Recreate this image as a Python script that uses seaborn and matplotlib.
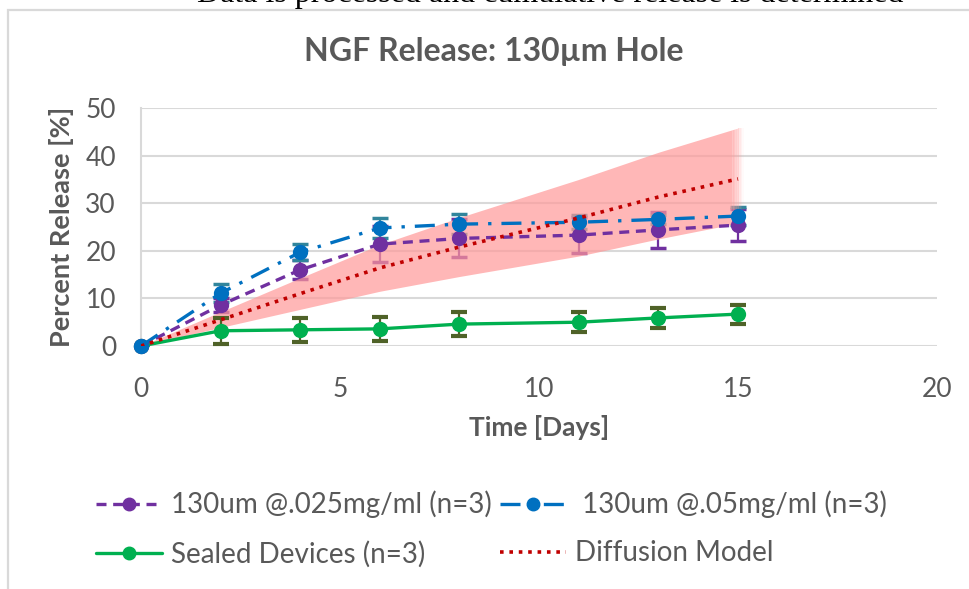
import numpy as np
import pandas as pd
import matplotlib
matplotlib.use("Agg")
import matplotlib.pyplot as plt
from matplotlib.lines import Line2D
from matplotlib.patches import Rectangle
import seaborn as sns

# Sampling days
days = [0, 2, 4, 6, 8, 11, 13, 15]

# Cumulative release [%] and standard deviations
release_025 = [0, 8.6, 16.0, 21.4, 22.6, 23.3, 24.4, 25.4]
err_025 = [0, 1.5, 2.0, 3.8, 4.0, 3.8, 3.8, 3.4]
release_05 = [0, 11.1, 19.7, 24.8, 25.6, 26.0, 26.6, 27.3]
err_05 = [0, 1.9, 1.7, 2.1, 2.1, 1.5, 1.0, 1.9]
release_sealed = [0, 3.2, 3.4, 3.6, 4.6, 5.0, 5.9, 6.7]
err_sealed = [0, 2.7, 2.5, 2.5, 2.5, 2.1, 2.1, 2.0]

# Diffusion model with its uncertainty band
model_days = [0, 2, 4, 6, 8, 11, 13, 15]
model_release = [0, 5.5, 11.0, 16.4, 20.8, 26.9, 31.3, 35.1]
model_upper = [0, 7.2, 14.3, 21.3, 27.0, 35.0, 40.7, 45.8]
model_lower = [0, 3.9, 7.7, 11.5, 14.6, 18.9, 22.5, 25.8]

labels = ["130um @.025mg/ml (n=3)", " 130um @.05mg/ml (n=3)",
          "Sealed Devices (n=3)", "Diffusion Model"]
title = "NGF Release: 130\u00b5m Hole"
header = "Data is processed and cumulative release is determined"

sns.set_theme(style="white")
plt.rcParams["font.family"] = ["Lato", "DejaVu Sans"]

TXT = "#595959"
GRID = "#D9D9D9"
C_PURPLE = "#7030A0"
C_BLUE = "#0070C0"
C_GREEN = "#00B050"
C_RED = "#C00000"
LS_PURPLE = (0, (3, 2))
LS_BLUE = (0, (6, 3, 1, 3))
LS_RED = (0, (1, 1.6))

fig = plt.figure(figsize=(9.69, 5.89), dpi=100)
ax = fig.add_axes([141 / 969, 1 - 346 / 589, (937 - 141) / 969, (346 - 108) / 589])

# Chart frame and clipped header text above it
fig.patches.append(Rectangle((8 / 969, -0.1), 1.2, 1 - 10 / 589 + 0.1,
                             transform=fig.transFigure, fill=False,
                             edgecolor=GRID, linewidth=1.6))
fig.text(550 / 969, 1 - 2 / 589, header, family="Liberation Serif",
         fontsize=23, ha="center", va="baseline", color="black")

# Model band with a soft right edge
md = np.array(model_days, dtype=float)
mu = np.array(model_upper, dtype=float)
ml = np.array(model_lower, dtype=float)
band_col = "#FF9999"
xs = np.linspace(0, md[-1] - 0.15, 200)
ax.fill_between(xs, np.interp(xs, md, ml), np.interp(xs, md, mu),
                color=band_col, alpha=0.7, linewidth=0, zorder=2)
edges = np.linspace(md[-1] - 0.15, md[-1] + 0.15, 9)
for i in range(len(edges) - 1):
    xe = np.array([edges[i], edges[i + 1]])
    a = 0.7 * (1 - (i + 0.5) / (len(edges) - 1))
    ax.fill_between(xe, np.interp(xe, md, ml), np.interp(xe, md, mu),
                    color=band_col, alpha=a, linewidth=0, zorder=2)

# Error bars
ax.errorbar(days, release_025, yerr=err_025, fmt="none", ecolor=C_PURPLE,
            elinewidth=1.6, capsize=5.5, capthick=2.5, zorder=1.5)
ax.errorbar(days, release_05, yerr=err_05, fmt="none", ecolor="#31859C",
            elinewidth=1.6, capsize=5.5, capthick=2.5, zorder=1.5)
ax.errorbar(days, release_sealed, yerr=err_sealed, fmt="none", ecolor="#4F6228",
            elinewidth=1.6, capsize=5.5, capthick=3, zorder=3)

df = pd.DataFrame({
    "day": days * 3,
    "release": release_025 + release_05 + release_sealed,
    "series": [labels[0]] * 8 + [labels[1]] * 8 + [labels[2]] * 8,
})
styles = {
    labels[0]: dict(color=C_PURPLE, ls=LS_PURPLE),
    labels[1]: dict(color=C_BLUE, ls=LS_BLUE),
    labels[2]: dict(color=C_GREEN, ls="-"),
}
for name in [labels[2], labels[0], labels[1]]:
    st = styles[name]
    sns.lineplot(data=df[df.series == name], x="day", y="release", ax=ax,
                 color=st["color"], linestyle=st["ls"], linewidth=2.4,
                 marker="o", markersize=11, markeredgewidth=0,
                 clip_on=False, zorder=4, legend=False)

sns.lineplot(x=model_days, y=model_release, ax=ax, color=C_RED,
             linestyle=LS_RED, linewidth=2.6, zorder=5, legend=False)

ax.set_xlim(0, 20)
ax.set_ylim(0, 50)
ax.set_xticks([0, 5, 10, 15, 20])
ax.set_yticks([0, 10, 20, 30, 40, 50])
ax.grid(axis="y", color=GRID, linewidth=1.5)
ax.grid(axis="x", visible=False)
for s in ["top", "right", "bottom"]:
    ax.spines[s].set_visible(False)
ax.spines["left"].set_color(GRID)
ax.spines["left"].set_linewidth(1.5)
ax.tick_params(axis="both", length=0, labelsize=19, labelcolor=TXT)
ax.tick_params(axis="x", pad=22)
ax.tick_params(axis="y", pad=18)
ax.set_axisbelow(True)

ax.set_xlabel("Time [Days]", fontsize=19, fontweight="bold", color=TXT)
ax.set_ylabel("Percent Release [%]", fontsize=19.5, fontweight="bold", color=TXT)
ax.xaxis.set_label_coords(0.5, (346 - 428) / 238)
ax.xaxis.label.set_verticalalignment("center")
ax.yaxis.set_label_coords((62 - 141) / 796, 0.5)
ax.yaxis.label.set_verticalalignment("center")
fig.text(494 / 969, 1 - 52 / 589, title, fontsize=23, fontweight="bold",
         color=TXT, ha="center", va="center")

handles = [
    Line2D([], [], color=C_PURPLE, ls=LS_PURPLE, lw=2.4, marker="o", ms=9),
    Line2D([], [], color=C_GREEN, ls="-", lw=2.4, marker="o", ms=9),
    Line2D([], [], color=C_BLUE, ls=LS_BLUE, lw=2.4, marker="o", ms=9),
    Line2D([], [], color=C_RED, ls=LS_RED, lw=2.6),
]
leg_labels = [labels[0], labels[2], labels[1], labels[3]]
leg = fig.legend(handles, leg_labels, loc="center", ncol=2,
                 bbox_to_anchor=(491 / 969, 1 - 529 / 589), frameon=False,
                 fontsize=20, handlelength=2.4, columnspacing=0.3,
                 handletextpad=0.3, labelspacing=0.8)
for t in leg.get_texts():
    t.set_color(TXT)

fig.savefig("out.png", dpi=100)
